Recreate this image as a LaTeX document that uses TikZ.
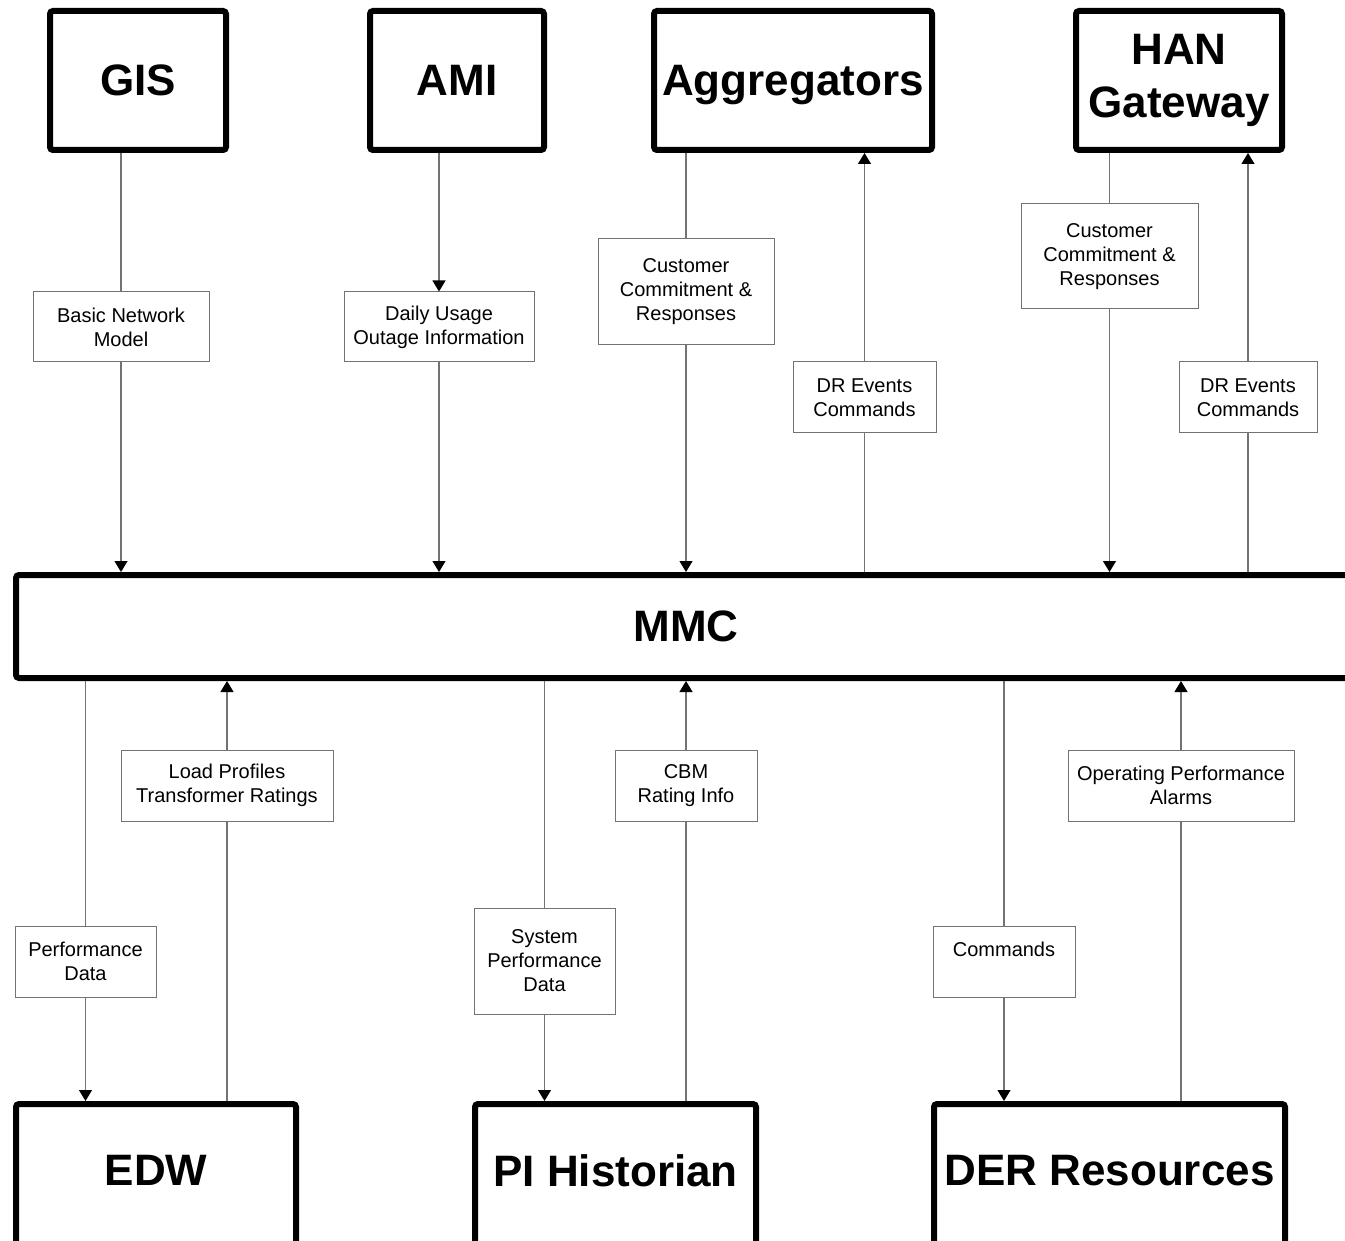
\documentclass[tikz,border=0pt]{standalone}
\usepackage{fontspec}
\setmainfont{Liberation Sans}
\usetikzlibrary{arrows.meta}

\begin{document}
\begin{tikzpicture}[
    x=0.5pt, y=-0.5pt,
    % Style for the big system boxes (thick black frame, bold text)
    sys/.style={draw, line width=3pt, rounded corners=1.5pt, inner sep=0pt, align=center,
                font=\bfseries\fontsize{22}{26.5}\selectfont},
    % Bottom systems (cut off by the page, text sits a bit higher)
    bot/.style={sys, minimum height=72.5pt, text depth=6pt},
    % Style for the small data labels sitting on the links
    tag/.style={draw=black!55, line width=0.5pt, fill=white, inner sep=0pt, align=center,
                font=\fontsize{10}{12}\selectfont},
    % Plain link line
    link/.style={draw=black!55, line width=0.6pt},
    % Link ending in a black arrow head
    flow/.style={link, -{Triangle[length=5.5pt, width=6.5pt, color=black]}}
]

\useasboundingbox (0,0) rectangle (1345,1241);

% ==========================
% Systems
% ==========================
\node[sys, minimum width=88pt, minimum height=69.5pt] (gis) at (138,80.5) {GIS};
\node[sys, minimum width=87pt, minimum height=69.5pt] (ami) at (457,80.5) {AMI};
\node[sys, minimum width=139pt, minimum height=69.5pt, text depth=0pt] (agg) at (793,80.5) {Aggregators};
\node[sys, minimum width=103pt, minimum height=69.5pt] (han) at (1179,80.5) {HAN\\Gateway};

\node[sys, minimum width=670pt, minimum height=51.5pt] (mmc) at (686,626.5) {MMC};

\node[bot, minimum width=140pt] (edw) at (156,1176.5) {EDW};
\node[bot, minimum width=140.5pt] (pi) at (615.5,1176.5) {PI Historian};
\node[bot, minimum width=175.5pt] (der) at (1109.5,1176.5) {DER Resources};

% ==========================
% Data labels
% ==========================
\node[tag, minimum width=88pt, minimum height=35pt] (bnm) at (121,327) {Basic Network\\Model};
\node[tag, minimum width=95pt, minimum height=35pt] (dui) at (439,327) {Daily Usage\\Outage Information};
\node[tag, minimum width=88pt, minimum height=53pt] (cca) at (686,292) {Customer\\Commitment \&\\Responses};
\node[tag, minimum width=71.5pt, minimum height=35.5pt] (dra) at (864.5,397.5) {DR Events\\Commands};
\node[tag, minimum width=88.5pt, minimum height=52.5pt] (cch) at (1109.5,256.5) {Customer\\Commitment \&\\Responses};
\node[tag, minimum width=69pt, minimum height=35.5pt] (drh) at (1248,397.5) {DR Events\\Commands};

\node[tag, minimum width=106pt, minimum height=35.5pt] (lpt) at (227,785.5) {Load Profiles\\Transformer Ratings};
\node[tag, minimum width=71pt, minimum height=35.5pt] (cbm) at (686,785.5) {CBM\\Rating Info};
\node[tag, minimum width=113pt, minimum height=35.5pt] (opa) at (1181,785.5) {Operating Performance\\Alarms};
\node[tag, minimum width=70.5pt, minimum height=35.5pt] (pfd) at (85.5,961.5) {Performance\\Data};
\node[tag, minimum width=70.5pt, minimum height=53pt] (spd) at (544.5,961) {System\\Performance\\Data};
\node[tag, minimum width=71pt, minimum height=35.5pt] (cmd) at (1004,961.5) {Commands\\~};

% ==========================
% Links above the MMC
% ==========================
\draw[link] (gis.south -| bnm) -- (bnm);
\draw[flow] (bnm) -- (bnm |- mmc.north);

\draw[flow] (ami.south -| dui) -- (dui);
\draw[flow] (dui) -- (dui |- mmc.north);

\draw[link] (agg.south -| cca) -- (cca);
\draw[flow] (cca) -- (cca |- mmc.north);
\draw[link] (mmc.north -| dra) -- (dra);
\draw[flow] (dra) -- (dra |- agg.south);

\draw[link] (han.south -| cch) -- (cch);
\draw[flow] (cch) -- (cch |- mmc.north);
\draw[link] (mmc.north -| drh) -- (drh);
\draw[flow] (drh) -- (drh |- han.south);

% ==========================
% Links below the MMC
% ==========================
\draw[link] (mmc.south -| pfd) -- (pfd);
\draw[flow] (pfd) -- (pfd |- edw.north);
\draw[link] (edw.north -| lpt) -- (lpt);
\draw[flow] (lpt) -- (lpt |- mmc.south);

\draw[link] (mmc.south -| spd) -- (spd);
\draw[flow] (spd) -- (spd |- pi.north);
\draw[link] (pi.north -| cbm) -- (cbm);
\draw[flow] (cbm) -- (cbm |- mmc.south);

\draw[link] (mmc.south -| cmd) -- (cmd);
\draw[flow] (cmd) -- (cmd |- der.north);
\draw[link] (der.north -| opa) -- (opa);
\draw[flow] (opa) -- (opa |- mmc.south);

\end{tikzpicture}
\end{document}
